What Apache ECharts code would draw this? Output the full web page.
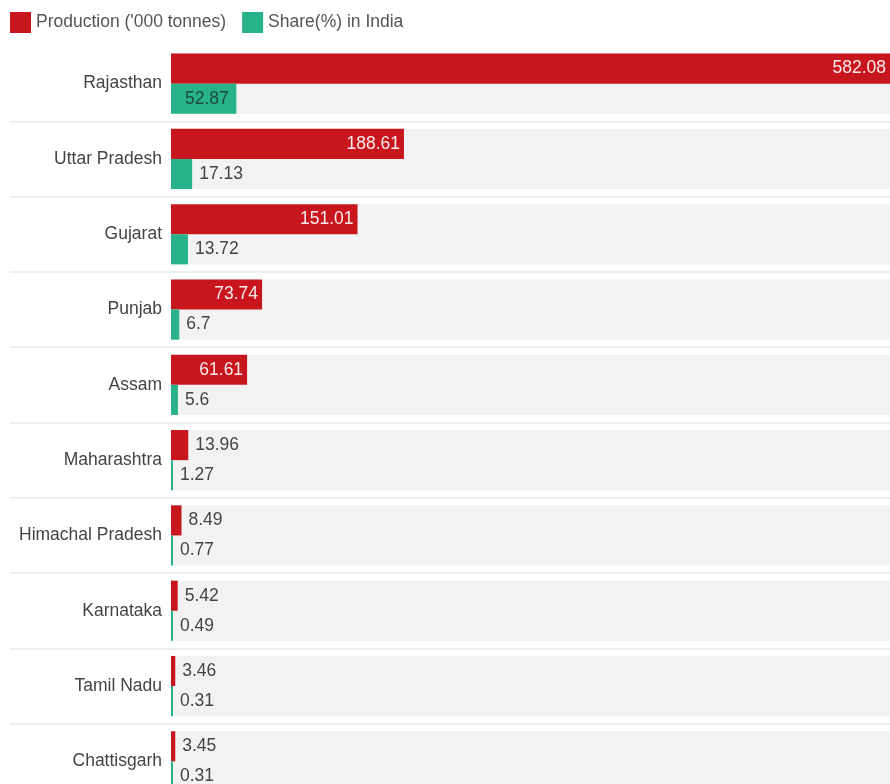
<!DOCTYPE html>
<html>
<head>
<meta charset="utf-8">
<script src="https://cdn.jsdelivr.net/npm/echarts@6/dist/echarts.min.js"></script>
<style>
  html, body { margin: 0; padding: 0; background: #fff; overflow: hidden; }
  #chart { width: 890px; height: 800px; }
</style>
</head>
<body>
<div id="chart"></div>
<script>
// States in display order (top to bottom)
const states = ['Rajasthan', 'Uttar Pradesh', 'Gujarat', 'Punjab', 'Assam',
  'Maharashtra', 'Himachal Pradesh', 'Karnataka', 'Tamil Nadu', 'Chattisgarh'];
// Production in '000 tonnes
const production = [582.08, 188.61, 151.01, 73.74, 61.61, 13.96, 8.49, 5.42, 3.46, 3.45];
// Share of national production (%)
const share = [52.87, 17.13, 13.72, 6.7, 5.6, 1.27, 0.77, 0.49, 0.31, 0.31];

const RED = '#c8161e';
const TEAL = '#27b28a';
const FONT = '"Liberation Sans", Arial, Helvetica, sans-serif';
const FS = 17.5;

const GRID_TOP = 46;
const BAND = 75.3;
const GRID_HEIGHT = BAND * states.length;

const chart = echarts.init(document.getElementById('chart'), null, { renderer: 'canvas' });

// Production labels: inside (white) for long bars, outside (grey) for short ones
const prodData = production.map(v => ({
  value: v,
  label: v > 30
    ? { position: 'insideRight', color: '#fbeaea', distance: 4 }
    : { position: 'right', color: '#444', distance: 7 }
}));
const shareData = share.map(v => ({
  value: v,
  label: v > 30
    ? { position: 'insideLeft', color: '#1d4a3c', distance: 14 }
    : { position: 'right', color: '#444', distance: 7 }
}));

chart.setOption({
  animation: false,
  backgroundColor: '#ffffff',
  textStyle: { fontFamily: FONT },
  legend: {
    left: 10,
    top: 12,
    padding: 0,
    icon: 'rect',
    itemWidth: 21,
    itemHeight: 21,
    itemGap: 16,
    textStyle: { fontFamily: FONT, fontSize: FS, color: '#555' },
    data: ["Production ('000 tonnes)", 'Share(%) in India']
  },
  grid: [
    { left: 171, right: 0, top: GRID_TOP, height: GRID_HEIGHT },
    // full-width grid carrying the separators between rows
    { left: 10, right: 0, top: GRID_TOP + BAND, height: BAND * (states.length - 1) }
  ],
  xAxis: [
    { gridIndex: 0, type: 'value', min: 0, max: 582.08, show: false },
    { gridIndex: 1, type: 'value', min: 0, max: 1, show: false }
  ],
  yAxis: [
    {
      gridIndex: 0,
      type: 'category',
      inverse: true,
      data: states,
      axisLine: { show: false },
      axisTick: { show: false },
      splitLine: { show: false },
      axisLabel: { fontFamily: FONT, fontSize: FS, color: '#444', margin: 9, padding: [0, 0, 6, 0] }
    },
    {
      gridIndex: 1,
      type: 'category',
      inverse: true,
      data: states.slice(1),
      axisLine: { show: false },
      axisTick: { show: false },
      axisLabel: { show: false },
      splitLine: { show: true, lineStyle: { color: '#e8e8e8', width: 1.5 } }
    }
  ],
  series: [
    {
      name: "Production ('000 tonnes)",
      type: 'bar',
      xAxisIndex: 0,
      yAxisIndex: 0,
      data: prodData,
      itemStyle: { color: RED },
      barGap: '0%',
      barCategoryGap: '20%',
      barMinHeight: 3,
      showBackground: true,
      backgroundStyle: { color: '#f2f2f2' },
      label: { show: true, fontFamily: FONT, fontSize: FS },
      z: 3
    },
    {
      name: 'Share(%) in India',
      type: 'bar',
      xAxisIndex: 0,
      yAxisIndex: 0,
      data: shareData,
      itemStyle: { color: TEAL },
      barGap: '0%',
      barCategoryGap: '20%',
      barMinHeight: 2,
      showBackground: true,
      backgroundStyle: { color: '#f2f2f2' },
      label: { show: true, fontFamily: FONT, fontSize: FS },
      z: 3
    }
  ]
});
</script>
</body>
</html>
